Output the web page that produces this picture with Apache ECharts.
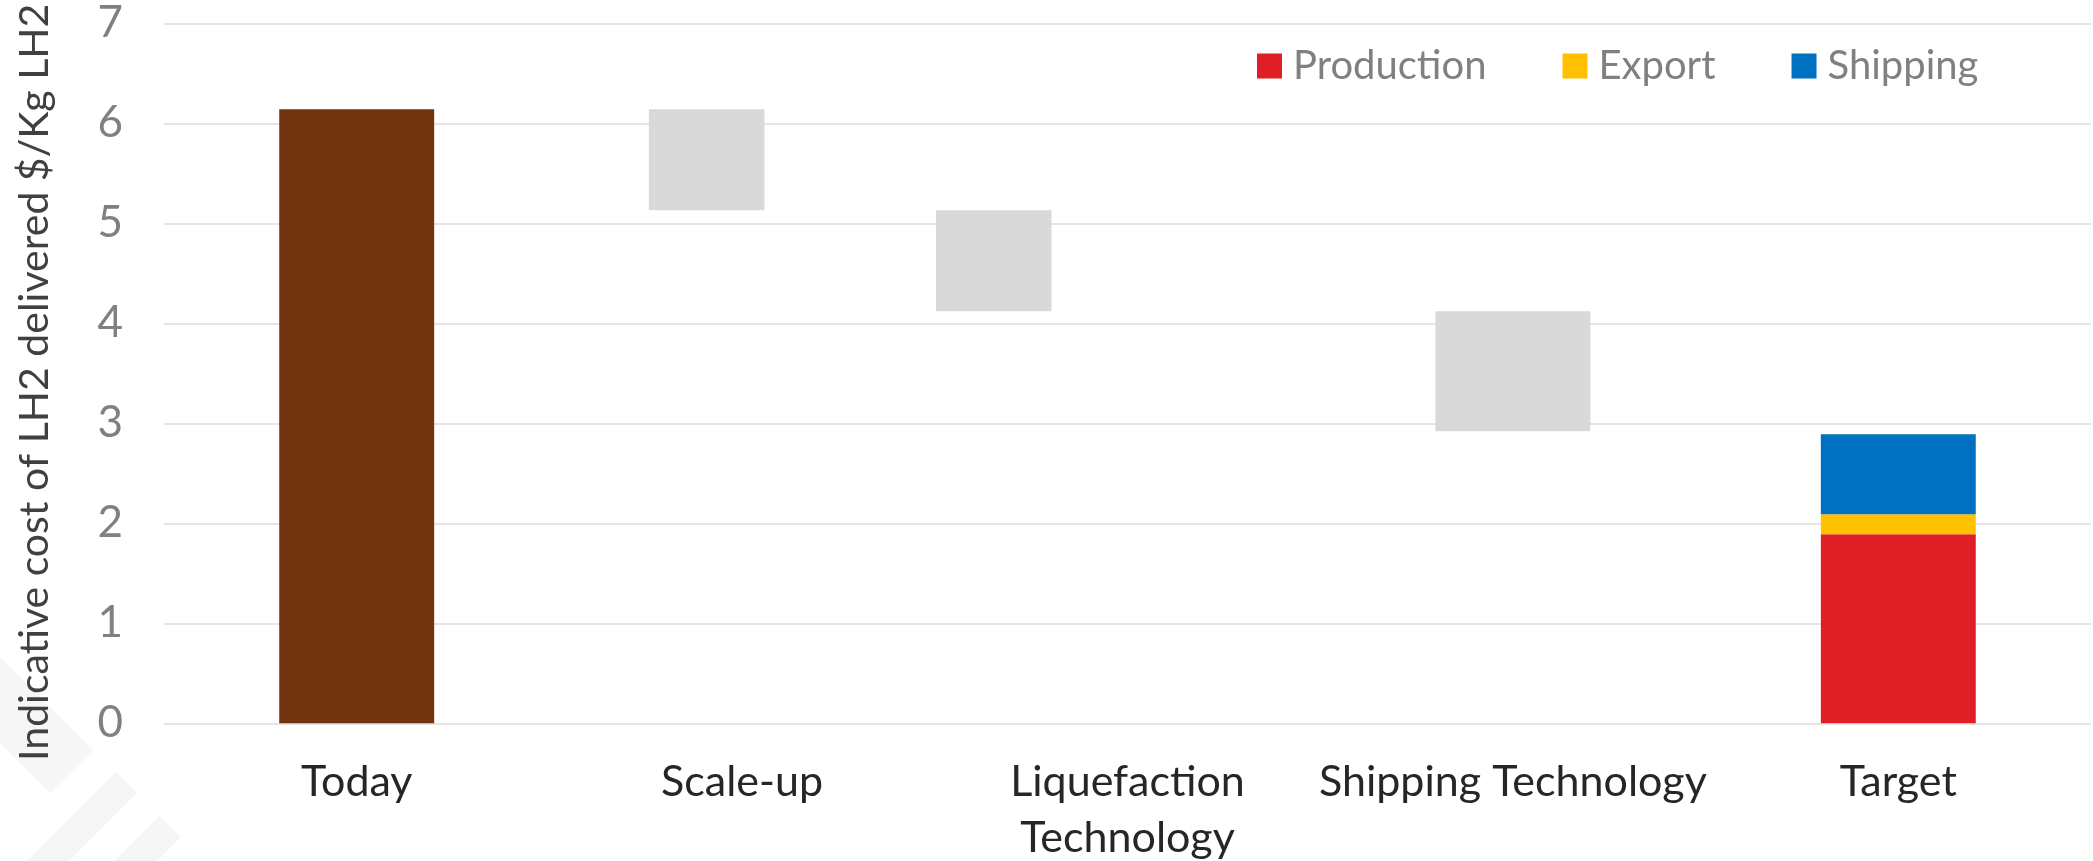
<!DOCTYPE html>
<html>
<head>
<meta charset="utf-8">
<script src="https://cdn.jsdelivr.net/npm/echarts@6/dist/echarts.min.js"></script>
<style>
html,body{margin:0;padding:0;background:#fff;}
#chart{width:2093px;height:861px;}
</style>
</head>
<body>
<div id="chart"></div>
<script>
// ---- data ----
const categories = ['Today', 'Scale-up', 'Liquefaction\nTechnology', 'Shipping Technology', 'Target'];
const todayCost = 6.14;
const reductionSteps = [1.01, 1.01, 1.20]; // Scale-up, Liquefaction, Shipping Technology
const targetParts = { Production: 1.89, Export: 0.20, Shipping: 0.80 };
const yTicks = [0, 1, 2, 3, 4, 5, 6, 7];

// ---- layout (category-band units), not data ----
const barOffset = [0, -0.092, -0.347, 0, 0];
const barWidthRatio = [0.402, 0.30, 0.30, 0.402, 0.402];

// build floating rows [categoryIndex, low, high]
const todayRows = [[0, 0, todayCost]];
const grayRows = [];
let level = todayCost;
reductionSteps.forEach((s, i) => {
  grayRows.push([i + 1, level - s, level]);
  level -= s;
});
const tIdx = categories.length - 1;
let acc = 0;
const partRows = {};
Object.keys(targetParts).forEach(k => {
  partRows[k] = [[tIdx, acc, acc + targetParts[k]]];
  acc += targetParts[k];
});

function renderBar(params, api) {
  const idx = api.value(0);
  const lo = api.value(1), hi = api.value(2);
  const band = api.size([1, 0])[0];
  const p0 = api.coord([idx, lo]);
  const p1 = api.coord([idx, hi]);
  const w = band * barWidthRatio[idx];
  const cx = p0[0] + band * barOffset[idx];
  return {
    type: 'rect',
    shape: { x: cx - w / 2, y: p1[1], width: w, height: p0[1] - p1[1] },
    style: api.style()
  };
}

function customSeries(name, rows, color) {
  return {
    name: name,
    type: 'custom',
    renderItem: renderBar,
    encode: { x: 0, y: [1, 2] },
    itemStyle: { color: color },
    data: rows,
    silent: true,
    z: 3
  };
}

const chart = echarts.init(document.getElementById('chart'), null, { renderer: 'canvas' });

const option = {
  animation: false,
  backgroundColor: '#ffffff',
  textStyle: { fontFamily: 'Lato' },
  graphic: [
    { type: 'polygon', silent: true, z: -10, shape: { points: [[0,657],[93,750],[50,793],[0,743]] }, style: { fill: '#f6f6f6' } },
    { type: 'polygon', silent: true, z: -10, shape: { points: [[116,772],[137,793],[69,861],[27,861]] }, style: { fill: '#f6f6f6' } },
    { type: 'polygon', silent: true, z: -10, shape: { points: [[159,816],[181,837],[157,861],[114,861]] }, style: { fill: '#f6f6f6' } }
  ],
  grid: { left: 164, right: 2, top: 23.3, bottom: 137.7, containLabel: false, outerBoundsMode: 'none' },
  legend: {
    data: Object.keys(targetParts),
    left: 1252,
    top: 41,
    icon: 'rect',
    itemWidth: 25,
    itemHeight: 25,
    itemGap: 76,
    selectedMode: false,
    textStyle: { color: '#808080', fontSize: 40, fontFamily: 'Lato', lineHeight: 40, padding: [0, 0, 0, 6] }
  },
  xAxis: {
    type: 'category',
    data: categories,
    axisLine: { show: false },
    axisTick: { show: false },
    splitLine: { show: false },
    axisLabel: {
      interval: 0,
      color: '#262626',
      fontSize: 43,
      fontFamily: 'Lato',
      lineHeight: 56,
      margin: 31
    }
  },
  yAxis: {
    type: 'value',
    min: yTicks[0],
    max: yTicks[yTicks.length - 1],
    interval: 1,
    name: 'Indicative cost of LH2 delivered $/Kg LH2',
    nameLocation: 'middle',
    nameGap: 109,
    nameTextStyle: { color: '#404040', fontSize: 41, fontFamily: 'Lato', padding: [0, 18, 0, 0] },
    axisLine: { show: false },
    axisTick: { show: false },
    axisLabel: { color: '#808080', fontSize: 44, fontFamily: 'Lato', margin: 41 },
    splitLine: { show: true, lineStyle: { color: '#e4e4e4', width: 2 } }
  },
  series: [
    customSeries('Today', todayRows, '#72340f'),
    customSeries('Reduction', grayRows, '#d9d9d9'),
    customSeries('Production', partRows.Production, '#df1f25'),
    customSeries('Export', partRows.Export, '#ffc000'),
    customSeries('Shipping', partRows.Shipping, '#0070c0')
  ]
};

chart.setOption(option);
</script>
</body>
</html>
